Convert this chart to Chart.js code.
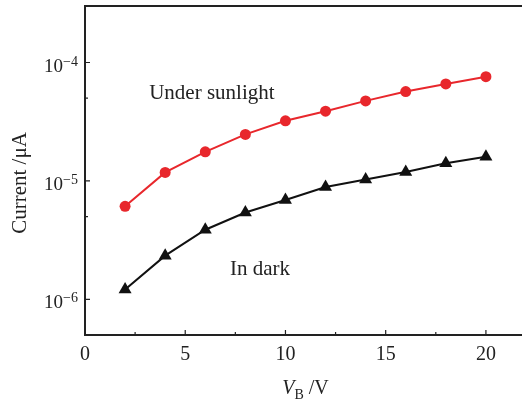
<!DOCTYPE html>
<html>
<head>
<meta charset="utf-8">
<script src="https://cdn.jsdelivr.net/npm/chart.js@4"></script>
<style>
  body { margin: 0; background: #fff; }
  #wrap { width: 522px; height: 400px; }
</style>
</head>
<body>
<div id="wrap"><canvas id="myChart"></canvas></div>
<script>
const vb = [2, 4, 6, 8, 10, 12, 14, 16, 18, 20];
const sunlight = [6.1e-6, 1.18e-5, 1.76e-5, 2.47e-5, 3.22e-5, 3.88e-5, 4.74e-5, 5.68e-5, 6.59e-5, 7.59e-5];
const dark = [1.21e-6, 2.34e-6, 3.87e-6, 5.41e-6, 6.91e-6, 8.87e-6, 1.03e-5, 1.19e-5, 1.41e-5, 1.6e-5];

const xMajor = [0, 5, 10, 15, 20];
const xMinor = [2.5, 7.5, 12.5, 17.5];
const yMajor = [1e-6, 1e-5, 1e-4];
const yMinor = [5e-6, 5e-5];
const yExp = ['\u22126', '\u22125', '\u22124'];

const serif = '"Liberation Serif", "DejaVu Serif", serif';
const ink = '#222';

// box top line, inward ticks, y tick labels with exponents, axis titles, curve labels
const extras = {
  id: 'extras',
  afterDraw(chart) {
    const { ctx, chartArea: a } = chart;
    const xs = chart.scales.x, ys = chart.scales.y;
    ctx.save();
    ctx.strokeStyle = ink;
    ctx.lineWidth = 2;
    ctx.beginPath();
    ctx.moveTo(a.left - 1, a.top);
    ctx.lineTo(chart.width, a.top);
    ctx.stroke();

    ctx.lineWidth = 1.2;
    ctx.beginPath();
    xMajor.forEach(v => { const p = xs.getPixelForValue(v); ctx.moveTo(p, a.bottom); ctx.lineTo(p, a.bottom - 5); });
    xMinor.forEach(v => { const p = xs.getPixelForValue(v); ctx.moveTo(p, a.bottom); ctx.lineTo(p, a.bottom - 3); });
    yMajor.forEach(v => { const p = ys.getPixelForValue(v); ctx.moveTo(a.left, p); ctx.lineTo(a.left + 5, p); });
    yMinor.forEach(v => { const p = ys.getPixelForValue(v); ctx.moveTo(a.left, p); ctx.lineTo(a.left + 3, p); });
    ctx.stroke();

    ctx.fillStyle = ink;
    ctx.textBaseline = 'alphabetic';

    // y tick labels: 10 with superscript exponent
    yMajor.forEach((v, i) => {
      const p = ys.getPixelForValue(v);
      ctx.font = '14px ' + serif;
      const we = ctx.measureText(yExp[i]).width;
      ctx.textAlign = 'right';
      ctx.fillText(yExp[i], a.left - 7, p + 3);
      ctx.font = '19px ' + serif;
      ctx.fillText('10', a.left - 7 - we, p + 9);
    });

    // y title
    ctx.save();
    ctx.translate(20, 183);
    ctx.rotate(-Math.PI / 2);
    ctx.textAlign = 'center';
    ctx.textBaseline = 'middle';
    ctx.font = '21px ' + serif;
    ctx.fillText('Current /\u03BCA', 0, 0);
    ctx.restore();

    // x title: V_B /V
    const cx = xs.getPixelForValue(11) ;
    const base = 394;
    ctx.font = 'italic 20px ' + serif;
    const wV = ctx.measureText('V').width;
    ctx.font = '14px ' + serif;
    const wB = ctx.measureText('B').width;
    ctx.font = '20px ' + serif;
    const wR = ctx.measureText(' /V').width;
    const x0 = cx - (wV + wB + wR) / 2;
    ctx.textAlign = 'left';
    ctx.font = 'italic 20px ' + serif;
    ctx.fillText('V', x0, base);
    ctx.font = '14px ' + serif;
    ctx.fillText('B', x0 + wV, base + 5);
    ctx.font = '20px ' + serif;
    ctx.fillText(' /V', x0 + wV + wB, base);

    // curve labels
    ctx.textAlign = 'center';
    ctx.textBaseline = 'middle';
    ctx.font = '21px ' + serif;
    ctx.fillText('Under sunlight', xs.getPixelForValue(6.33), ys.getPixelForValue(5.46e-5));
    ctx.fillText('In dark', xs.getPixelForValue(8.73), ys.getPixelForValue(1.79e-6));
    ctx.restore();
  }
};

const ctx = document.getElementById('myChart');

const myChart = new Chart(ctx, {
  type: 'line',
  data: {
    datasets: [{
      label: 'Under sunlight',
      data: vb.map((x, i) => ({ x: x, y: sunlight[i] })),
      borderColor: '#e8272c',
      backgroundColor: '#e8272c',
      borderWidth: 2,
      pointStyle: 'circle',
      pointRadius: 5.5,
      pointBorderWidth: 0
    }, {
      label: 'In dark',
      data: vb.map((x, i) => ({ x: x, y: dark[i] })),
      borderColor: '#111',
      backgroundColor: '#111',
      borderWidth: 2,
      pointStyle: 'triangle',
      pointRadius: 7.5,
      pointBorderWidth: 0
    }]
  },
  options: {
    responsive: true,
    maintainAspectRatio: false,
    animation: false,
    layout: { autoPadding: false, padding: { top: 6, right: 0, left: 0, bottom: 0 } },
    plugins: { legend: { display: false }, tooltip: { enabled: false } },
    scales: {
      x: {
        type: 'linear',
        min: 0,
        max: 21.8,
        afterBuildTicks: (scale) => { scale.ticks = xMajor.map(v => ({ value: v })); },
        afterFit: (scale) => { scale.height = 65; scale.paddingLeft = 0; scale.paddingRight = 0; },
        grid: { display: false, drawTicks: false },
        border: { display: true, color: ink, width: 2 },
        ticks: { color: ink, font: { family: serif, size: 20 }, padding: 8, maxRotation: 0 }
      },
      y: {
        type: 'logarithmic',
        min: 5e-7,
        max: 3e-4,
        afterBuildTicks: (scale) => { scale.ticks = yMajor.map(v => ({ value: v })); },
        afterFit: (scale) => { scale.width = 85; scale.paddingTop = 0; scale.paddingBottom = 0; },
        grid: { display: false, drawTicks: false },
        border: { display: true, color: ink, width: 2 },
        ticks: { display: false }
      }
    }
  },
  plugins: [extras]
});
</script>
</body>
</html>
